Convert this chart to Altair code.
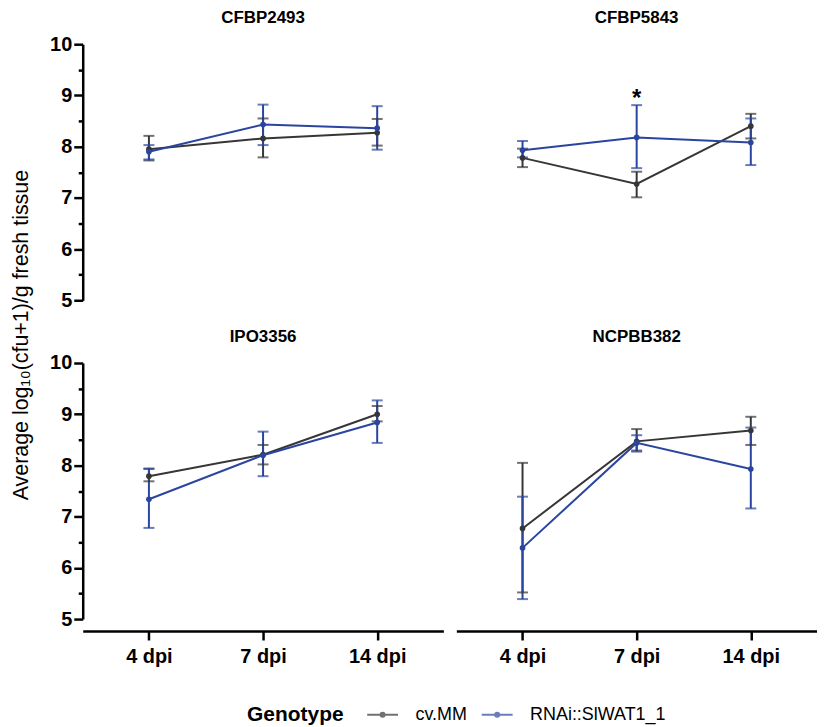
import altair as alt
import pandas as pd

strains = ["CFBP2493", "CFBP5843", "IPO3356", "NCPBB382"]
dpi_labels = ["4 dpi", "7 dpi", "14 dpi"]
dpi_days = [4, 7, 14]
genotypes = ["cv.MM", "RNAi::SlWAT1_1"]

# cv.MM: mean, lower and upper error bar ends (per strain, at 4 / 7 / 14 dpi)
mm_mean = {"CFBP2493": [7.95, 8.16, 8.27], "CFBP5843": [7.78, 7.27, 8.40],
           "IPO3356": [7.79, 8.21, 9.00], "NCPBB382": [6.77, 8.47, 8.68]}
mm_low = {"CFBP2493": [7.73, 7.79, 8.02], "CFBP5843": [7.60, 7.01, 8.16],
          "IPO3356": [7.69, 8.02, 8.86], "NCPBB382": [5.52, 8.29, 8.40]}
mm_high = {"CFBP2493": [8.21, 8.55, 8.54], "CFBP5843": [7.96, 7.51, 8.64],
           "IPO3356": [7.94, 8.40, 9.16], "NCPBB382": [8.05, 8.71, 8.95]}

# RNAi::SlWAT1_1
ri_mean = {"CFBP2493": [7.90, 8.43, 8.36], "CFBP5843": [7.93, 8.18, 8.08],
           "IPO3356": [7.34, 8.20, 8.84], "NCPBB382": [6.39, 8.44, 7.93]}
ri_low = {"CFBP2493": [7.75, 8.03, 7.94], "CFBP5843": [7.79, 7.58, 7.64],
          "IPO3356": [6.78, 7.79, 8.44], "NCPBB382": [5.39, 8.27, 7.16]}
ri_high = {"CFBP2493": [8.03, 8.82, 8.79], "CFBP5843": [8.11, 8.81, 8.55],
           "IPO3356": [7.93, 8.66, 9.27], "NCPBB382": [7.39, 8.59, 8.74]}

# significance marker
star_strain = "CFBP5843"
star_dpi = "7 dpi"
star_value = 9.08

BLACK = "#363636"
BLUE = "#2a45a0"
FONT = "Liberation Sans"

rows = []
for s in strains:
    for g, (mn, lo, hi) in zip(genotypes, [(mm_mean, mm_low, mm_high), (ri_mean, ri_low, ri_high)]):
        for i, (lab, d) in enumerate(zip(dpi_labels, dpi_days)):
            star = None
            if s == star_strain and lab == star_dpi and g == genotypes[0]:
                star = star_value
            rows.append({"strain": s, "genotype": g, "dpi": lab, "day": d,
                         "mean": mn[s][i], "low": lo[s][i], "high": hi[s][i],
                         "star": star})
df = pd.DataFrame(rows)

ytitle = "Average log\u2081\u2080(cfu+1)/g fresh tissue"
y_axis = alt.Axis(
    title=None,
    values=[5, 5.5, 6, 6.5, 7, 7.5, 8, 8.5, 9, 9.5, 10],
    labelExpr="datum.value % 1 === 0 ? format(datum.value, 'd') : ''",
    tickSize={"condition": {"test": "datum.value % 1 !== 0", "value": 4.5}, "value": 9},
    grid=False,
    labelPadding=2,
)
yscale = alt.Scale(domain=[5, 10], nice=False, zero=False)
x_enc = alt.X("dpi:O", sort=dpi_labels,
              scale=alt.Scale(type="point", padding=0.58),
              axis=alt.Axis(title=None, labelAngle=0, offset=12, tickSize=9, labelPadding=7))
color = alt.Color("genotype:N",
                  scale=alt.Scale(domain=genotypes, range=[BLACK, BLUE]),
                  legend=alt.Legend(
                      title="Genotype", orient="none", direction="horizontal",
                      legendX=165, legendY=664,
                      titleOrient="left", titleFontSize=21, titleFontWeight="bold",
                      titleFont=FONT, titleColor="black", titlePadding=30,
                      titleBaseline="middle", titleAnchor="middle",
                      labelFontSize=18, labelFont=FONT, labelColor="black",
                      labelOffset=24, columnPadding=10,
                      symbolType="M-2,0L2,0M-0.26,0a0.26,0.26 0 1,0 0.52,0a0.26,0.26 0 1,0 -0.52,0",
                      symbolSize=240, symbolStrokeWidth=2,
                  ))

base = alt.Chart(df)

lines = base.mark_line(strokeWidth=2).encode(
    x=x_enc, y=alt.Y("mean:Q", scale=yscale, axis=y_axis), color=color, order="day:Q")
rules = base.mark_rule(strokeWidth=2).encode(
    x=x_enc, y=alt.Y("low:Q", scale=yscale, axis=y_axis), y2="high:Q", color=color)
caps_lo = base.mark_tick(size=11, thickness=2, orient="horizontal").encode(
    x=x_enc, y=alt.Y("low:Q", scale=yscale, axis=y_axis), color=color)
caps_hi = base.mark_tick(size=11, thickness=2, orient="horizontal").encode(
    x=x_enc, y=alt.Y("high:Q", scale=yscale, axis=y_axis), color=color)
points = base.mark_point(filled=True, size=32, opacity=1).encode(
    x=x_enc, y=alt.Y("mean:Q", scale=yscale, axis=y_axis), color=color)
star = base.transform_filter("datum.star != null").mark_text(
    text="*", fontSize=24, font=FONT, fontWeight="bold", color="black", baseline="middle", dy=8
).encode(x=x_enc, y=alt.Y("star:Q", scale=yscale, axis=y_axis))

layered = alt.layer(lines, rules, caps_lo, caps_hi, points, star).properties(width=362, height=257)

chart = layered.facet(
    facet=alt.Facet("strain:N", sort=strains,
                    header=alt.Header(title=None, labelFontSize=17, labelFontWeight="bold",
                                      labelFont=FONT, labelColor="black", labelPadding=17)),
    columns=2,
    spacing={"row": 28, "column": 13},
).properties(
    title=alt.TitleParams(text=ytitle, orient="left", anchor="middle", fontSize=21.5,
                          font=FONT, fontWeight="normal", color="black", offset=17, dx=32),
    padding={"top": 0, "left": 3, "right": 0, "bottom": 0},
).configure_view(
    stroke=None
).configure_axis(
    domainColor="black", domainWidth=2.5, tickColor="black", tickWidth=2.5,
    labelFont=FONT, labelFontWeight="bold", labelFontSize=20, labelColor="black",
)

chart.save("out.html", embed_options={"renderer": "svg", "actions": False})
